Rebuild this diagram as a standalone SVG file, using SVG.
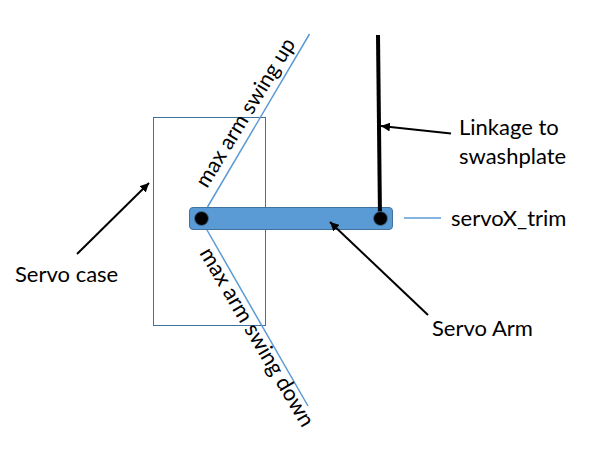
<svg xmlns="http://www.w3.org/2000/svg" width="593" height="457" viewBox="0 0 593 457">
<style>
text{font-family:Lato,"Open Sans","Liberation Sans",sans-serif;font-size:22px;fill:#000}
.blue{stroke:#5B9BD5;stroke-width:1.5;fill:none}
.arrow{stroke:#000;stroke-width:2;fill:none;marker-end:url(#head)}
.pin{fill:#000;stroke:#41719C;stroke-width:1}
</style>
<defs><marker id="head" markerUnits="userSpaceOnUse" markerWidth="10" markerHeight="9" refX="9" refY="4.5" orient="auto"><path d="M0 0L9 4.5L0 9Z" fill="#000"/></marker></defs>
<rect width="593" height="457" fill="#fff"/>
<g id="servo-case"><rect x="153.5" y="117.5" width="112" height="208" fill="none" stroke="#41719C" stroke-width="1"/></g>
<g id="connectors">
<line class="blue" x1="207.5" y1="207" x2="309.5" y2="34"/>
<line class="blue" x1="207" y1="230" x2="308" y2="406"/>
<line class="blue" x1="404" y1="218" x2="441" y2="218"/>
</g>
<g id="servo-arm"><rect x="189.5" y="207.5" width="203" height="22" rx="3.5" fill="#5B9BD5" stroke="#41719C" stroke-width="1"/></g>
<g id="linkage"><line x1="378" y1="35" x2="380" y2="218" stroke="#000" stroke-width="4"/></g>
<g id="pivot-left"><circle class="pin" cx="201.5" cy="218.5" r="7"/></g>
<g id="pivot-right"><circle class="pin" cx="380.5" cy="218.5" r="7"/></g>
<g id="arrows">
<line class="arrow" x1="451" y1="133.5" x2="381" y2="126"/>
<line class="arrow" x1="77" y1="254" x2="149" y2="183"/>
<line class="arrow" x1="428" y1="315" x2="330" y2="222"/>
</g>
<g id="labels">
<text x="459" y="135">Linkage to</text>
<text x="459" y="164">swashplate</text>
<text x="451" y="226">servoX_trim</text>
<text x="432" y="336">Servo Arm</text>
<text x="15" y="282">Servo case</text>
<text transform="translate(207 189) rotate(-58.5)" style="font-size:21.5px">max arm swing up</text>
<text transform="translate(199 253) rotate(59.5)">max arm swing down</text>
</g>
</svg>
